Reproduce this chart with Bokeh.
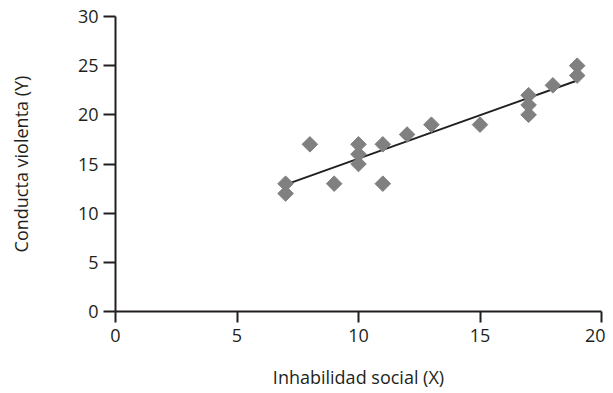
import numpy as np
from bokeh.plotting import figure
from bokeh.models import Range1d, FixedTicker
from bokeh.embed import file_html
from bokeh.resources import INLINE

# Data
x_vals = [7, 7, 8, 9, 10, 10, 10, 11, 11, 12, 13, 15, 17, 17, 17, 18, 19, 19]
y_vals = [13, 12, 17, 13, 17, 16, 15, 17, 13, 18, 19, 19, 22, 21, 20, 23, 25, 24]
x_ticks = [0, 5, 10, 15, 20]
y_ticks = [0, 5, 10, 15, 20, 25, 30]
x_label = "Inhabilidad social (X)"
y_label = "Conducta violenta (Y)"

FONT = "Open Sans"
TXT = "#231f20"

p = figure(width=605, height=391, output_backend="svg", toolbar_location=None,
           x_range=Range1d(0, 20), y_range=Range1d(0, 30),
           min_border_left=115, min_border_right=4, min_border_top=16, min_border_bottom=10)
p.outline_line_color = None
p.grid.visible = False
p.background_fill_color = "white"
p.border_fill_color = "white"

# regression line
slope, intercept = np.polyfit(x_vals, y_vals, 1)
lx = [min(x_vals), max(x_vals)]
ly = [intercept + slope * v for v in lx]
p.line(lx, ly, line_color=TXT, line_width=2)

p.scatter(x_vals, y_vals, marker="square", size=11, angle=np.pi / 4,
          fill_color="#808080", line_color="#808080")

for ax in (p.xaxis[0], p.yaxis[0]):
    ax.axis_line_color = TXT
    ax.axis_line_width = 2
    ax.major_tick_line_color = TXT
    ax.major_tick_line_width = 2
    ax.minor_tick_line_color = None
    ax.major_tick_in = 0
    ax.major_label_text_font = FONT
    ax.major_label_text_font_size = "18px"
    ax.major_label_text_color = TXT
    ax.axis_label_text_font = FONT
    ax.axis_label_text_font_size = "18px"
    ax.axis_label_text_font_style = "normal"
    ax.axis_label_text_color = TXT

p.xaxis.ticker = FixedTicker(ticks=x_ticks)
p.yaxis.ticker = FixedTicker(ticks=y_ticks)
p.xaxis.axis_label = x_label
p.yaxis.axis_label = y_label
p.xaxis.major_tick_out = 11
p.yaxis.major_tick_out = 12
p.xaxis.major_label_standoff = 6
p.yaxis.major_label_standoff = 5
p.xaxis.axis_label_standoff = 20
p.yaxis.axis_label_standoff = 42

open("out.html", "w").write(file_html(p, INLINE))
